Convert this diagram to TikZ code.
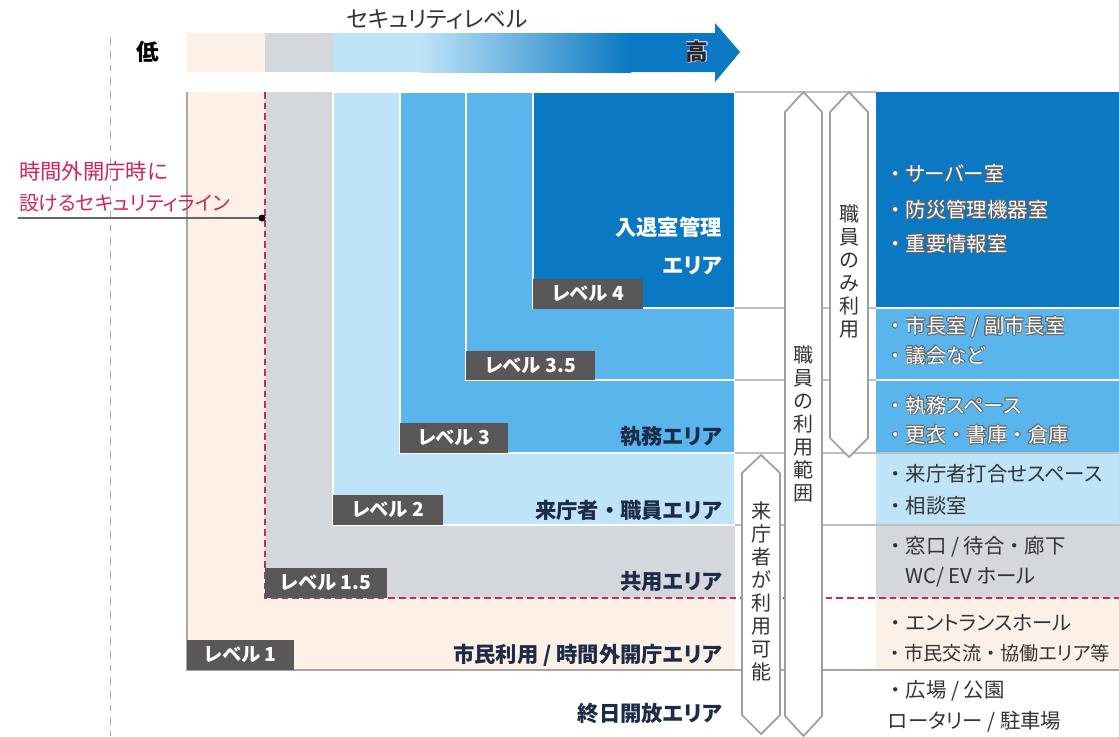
\documentclass[tikz,border=0pt]{standalone}
\usepackage{fontspec}
\usepackage[copies]{contour}
\setmainfont{Noto Sans CJK JP}[RawFeature=+palt]
\contourlength{0.45pt}
\definecolor{peach}{HTML}{FDF1E7}
\definecolor{lgray}{HTML}{D4D7DB}
\definecolor{lblue}{HTML}{BFE4F8}
\definecolor{mblue}{HTML}{5AB5EC}
\definecolor{dblue}{HTML}{0A78C2}
\definecolor{lvbox}{HTML}{595757}
\definecolor{navy}{HTML}{1B2B48}
\definecolor{secred}{HTML}{D2245A}
\definecolor{dashred}{HTML}{C42A5A}
\definecolor{txtdark}{HTML}{333333}
\definecolor{sepgray}{HTML}{BFBFBF}
\newcommand{\wtxt}[1]{\contour{black!60}{#1}}
\newcommand{\nd}{{\addfontfeature{RawFeature=-palt}・}}
\begin{document}
\begin{tikzpicture}[x=0.75pt,y=-0.75pt,
  lvl/.style={fill=lvbox,text=white,inner sep=0pt,font=\fontsize{14.5}{16}\selectfont\bfseries,minimum height=22pt},
  area/.style={anchor=east,text=navy,inner sep=0pt,font=\fontsize{16}{18}\selectfont\bfseries},
  item/.style={anchor=west,inner sep=0pt,font=\fontsize{15.3}{18}\selectfont},
  vtext/.style={align=center,inner sep=0pt,text=txtdark,font=\fontsize{15}{17.25}\selectfont},
  hexa/.style={fill=white,draw=gray!75,line width=1.3pt},
  sep/.style={draw=sepgray,line width=0.8pt}]
\fill[white] (0,0) rectangle (1119,736);
\useasboundingbox (0,0) rectangle (1119,736);
% dashed guide
\draw[gray!70,dash pattern=on 5pt off 5pt,line width=0.6pt] (110,38) -- (110,736);
% top security arrow
\fill[peach] (187,33) rectangle (265,72);
\fill[lgray] (265,33) rectangle (333,72);
\fill[lblue] (333,33) rectangle (421,72);
\shade[left color=lblue,right color=dblue] (420,33) rectangle (631,72);
\fill[dblue] (630,33) -- (715,33) -- (715,23) -- (740,52) -- (715,82) -- (715,72) -- (630,72) -- cycle;
\node[text=txtdark,font=\fontsize{17}{19}\selectfont,inner sep=0pt] (sl) at (437,19) {セキュリティレベル};
\node[font=\fontsize{17}{20}\selectfont\bfseries,inner sep=0pt] (low) at (148,52) {低};
\node[text=black!85,font=\fontsize{17}{20}\selectfont\bfseries,inner sep=0pt] (high) at (697,52) {\contour{white!80!blue}{高}};
% nested boxes
\fill[peach] (187,92) rectangle (735,670);
\fill[lgray] (265,92) rectangle (735,598);
\filldraw[fill=lblue,draw=white,line width=1pt] (333,92) rectangle (735,525);
\filldraw[fill=mblue,draw=white,line width=1.5pt] (400,92) rectangle (735,453);
\filldraw[fill=mblue,draw=white,line width=1.5pt] (466,92) rectangle (735,380);
\filldraw[fill=dblue,draw=white,line width=1.5pt] (533,92) rectangle (735,308);
% right column
\fill[dblue] (876,92) rectangle (1119,308);
\fill[mblue] (876,308) rectangle (1119,380);
\fill[mblue] (876,380) rectangle (1119,453);
\fill[lblue] (876,453) rectangle (1119,525);
\fill[lgray] (876,525) rectangle (1119,598);
\fill[peach] (876,598) rectangle (1119,670);
% separators
\draw[sep] (735,92) -- (876,92);
\draw[sep] (735,308) -- (876,308);
\draw[white,line width=1.5pt] (876,308) -- (1119,308);
\draw[sep] (735,380) -- (876,380);
\draw[white,line width=1.5pt] (876,380) -- (1119,380);
\draw[sep] (735,453) -- (1119,453);
\draw[sep] (735,525) -- (1119,525);
\draw[gray!70,line width=0.8pt] (187,92) -- (187,670) -- (1119,670);
% red security line
\draw[dashred,line width=2pt,dash pattern=on 5pt off 3pt] (265,92) -- (265,598) -- (1119,598);
% left label
\coordinate (lstart) at (18,218);
\coordinate (ldot) at (262,218);
\draw[gray!80!black,line width=0.8pt] (lstart) -- (ldot);
\fill[black] (ldot) circle (3.5);
\node[anchor=west,text=secred,inner sep=0pt,font=\fontsize{16}{18}\selectfont] (ll1) at (19,171) {時間外開庁時に};
\node[anchor=west,text=secred,inner sep=0pt,font=\fontsize{14.8}{18}\selectfont] (ll2) at (19,203) {設けるセキュリティライン};
% level labels
\node[lvl,minimum width=82.5pt] (l4) at (588,294) {レベル 4};
\node[lvl,minimum width=96.75pt] (l35) at (530.5,365.5) {レベル 3.5};
\node[lvl,minimum width=81pt] (l3) at (454,438) {レベル 3};
\node[lvl,minimum width=82.5pt] (l2) at (388,510) {レベル 2};
\node[lvl,minimum width=91.5pt] (l15) at (326,583) {レベル 1.5};
\node[lvl,minimum width=80.25pt] (l1) at (240.5,655) {レベル 1};
% area labels
\node[area,text=white] (a4a) at (722,227) {入退室管理};
\node[area,text=white] (a4b) at (722,266) {エリア};
\node[area] (a3) at (722,437) {執務エリア};
\node[area] (a2) at (722,510) {来庁者\nd 職員エリア};
\node[area] (a15) at (722,582) {共用エリア};
\node[area] (a1) at (722,655) {市民利用 / 時間外開庁エリア};
\node[area] (a0) at (722,713) {終日開放エリア};
% right column items
\node[item,text=white] (r1) at (885,174) {\wtxt{\nd サーバー室}};
\node[item,text=white] (r2) at (885,210) {\wtxt{\nd 防災管理機器室}};
\node[item,text=white] (r3) at (885,244) {\wtxt{\nd 重要情報室}};
\node[item,text=white] (r4) at (885,327) {\wtxt{\nd 市長室 / 副市長室}};
\node[item,text=white] (r5) at (885,356) {\wtxt{\nd 議会など}};
\node[item,text=white] (r6) at (885,406) {\wtxt{\nd 執務スペース}};
\node[item,text=white] (r7) at (885,435) {\wtxt{\nd 更衣\nd 書庫\nd 倉庫}};
\node[item,text=txtdark] (r8) at (885,474) {\nd 来庁者打合せスペース};
\node[item,text=txtdark] (r9) at (885,506) {\nd 相談室};
\node[item,text=txtdark] (r10) at (885,547) {\nd 窓口 / 待合\nd 廊下};
\node[item,text=txtdark] (r11) at (905,577) {WC/ EV ホール};
\node[item,text=txtdark] (r12) at (885,623) {\nd エントランスホール};
\node[item,text=txtdark,font=\fontsize{14.4}{18}\selectfont] (r13) at (885,653) {\nd 市民交流\nd 協働エリア等};
\node[item,text=txtdark] (r14) at (885,691) {\nd 広場 / 公園};
\node[item,text=txtdark] (r15) at (888,722) {ロータリー / 駐車場};
% double-headed vertical arrows
\path[hexa] (742,473) -- (761,455) -- (780,473) -- (780,715) -- (761,734) -- (742,715) -- cycle;
\path[hexa] (785,112) -- (803.5,92) -- (822,112) -- (822,716) -- (803.5,736) -- (785,716) -- cycle;
\path[hexa] (830,112) -- (849,92) -- (868,112) -- (868,438) -- (849,457) -- (830,438) -- cycle;
\node[vtext] (v1) at (849,271.5) {職\\員\\の\\み\\利\\用};
\node[vtext] (v2) at (803.5,424) {職\\員\\の\\利\\用\\範\\囲};
\node[vtext] (v3) at (761,591.5) {来\\庁\\者\\が\\利\\用\\可\\能};
\end{tikzpicture}
\end{document}
